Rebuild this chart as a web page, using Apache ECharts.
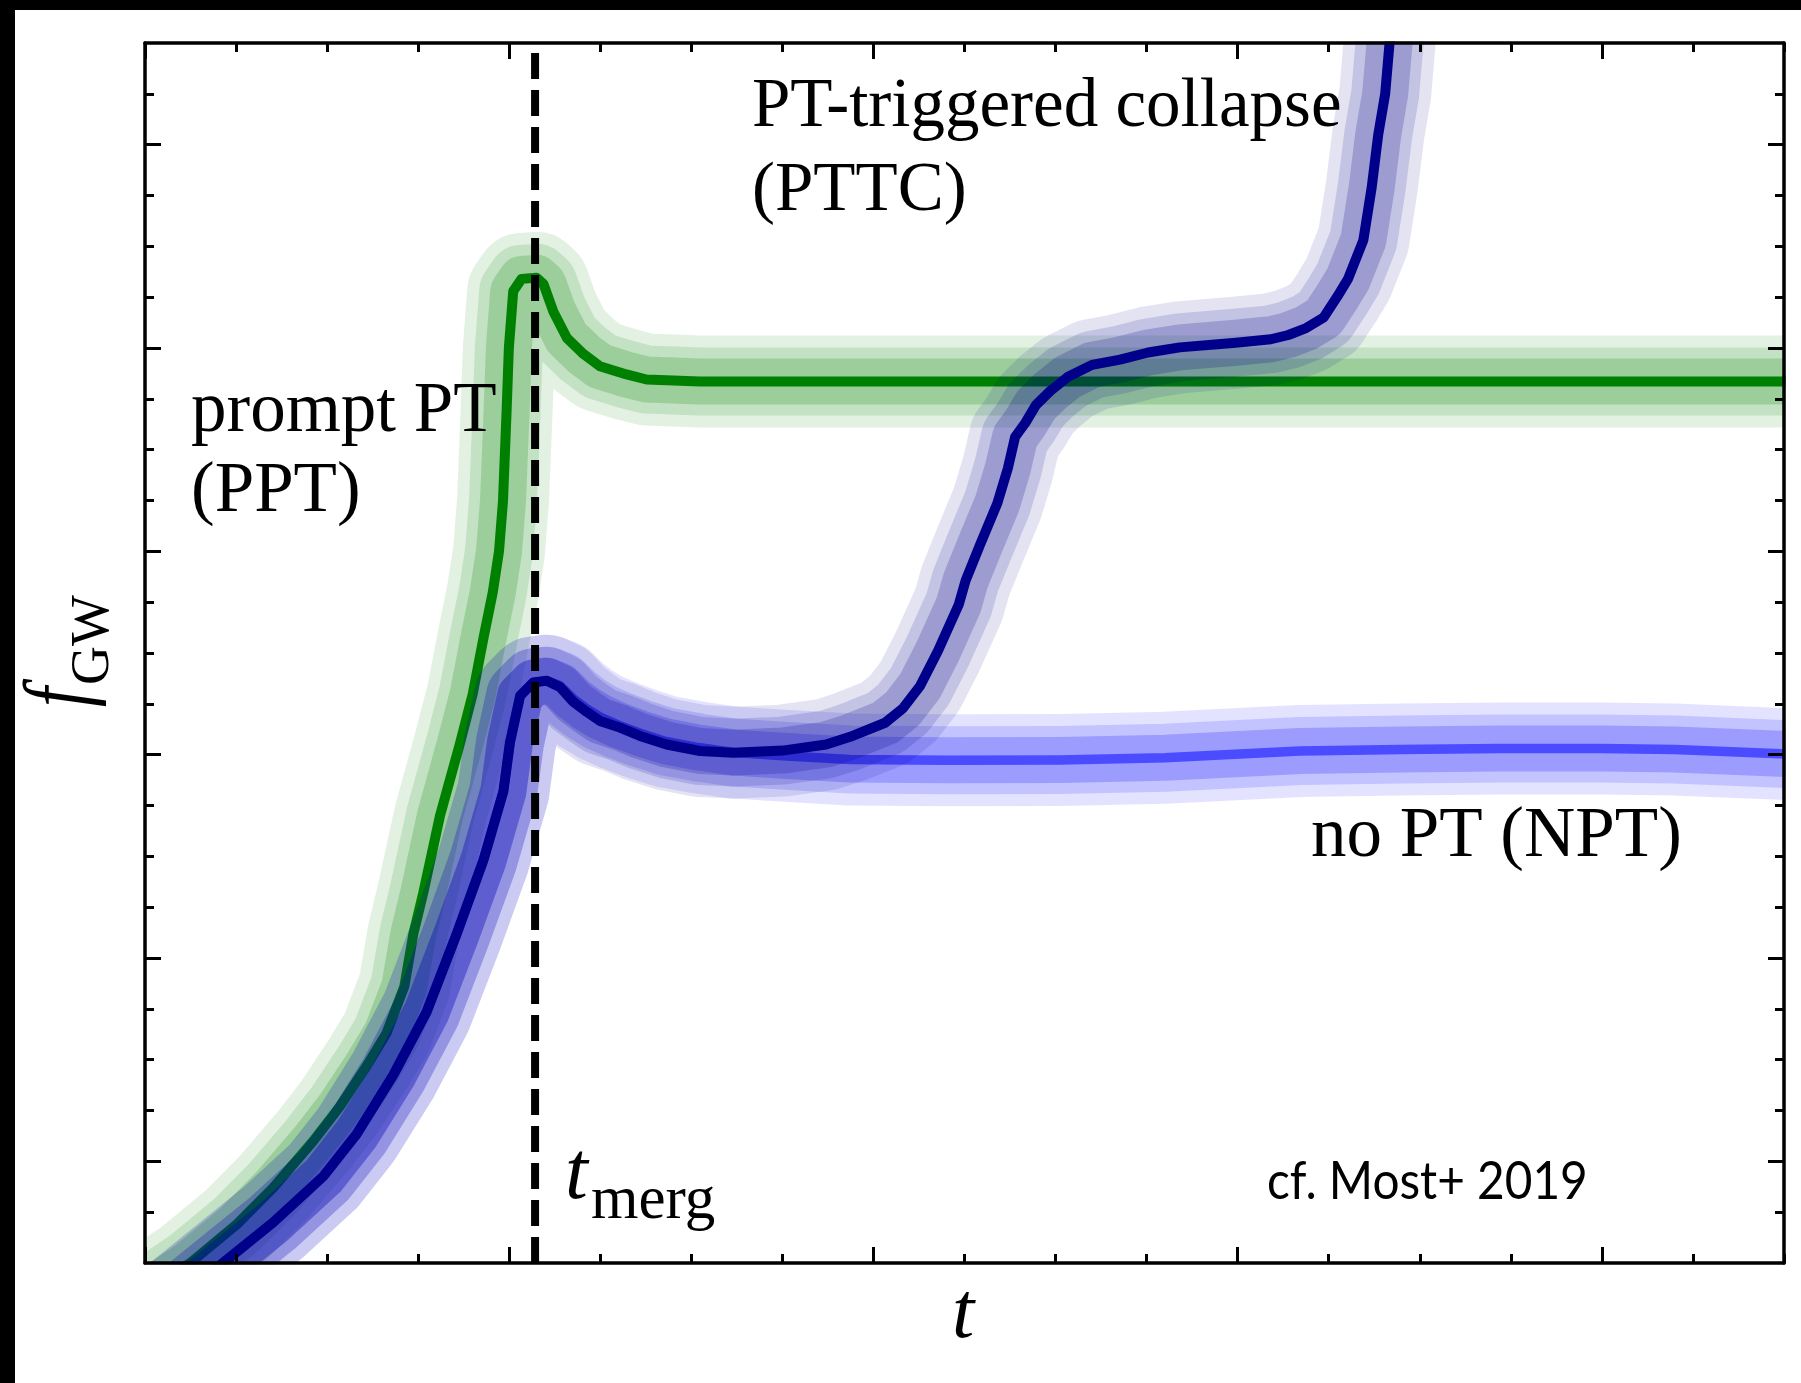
<!DOCTYPE html>
<html>
<head>
<meta charset="utf-8">
<script src="https://cdn.jsdelivr.net/npm/echarts@6/dist/echarts.min.js"></script>
<style>
  html, body { margin: 0; padding: 0; background: #fff; }
  #chart { width: 1801px; height: 1383px; }
</style>
</head>
<body>
<div id="chart"></div>
<script>
// Prompt phase transition (PPT): frequency track
const pptT = [0.00, 0.124, 0.252, 0.352, 0.462, 0.535, 0.609, 0.663, 0.712, 0.737, 0.764, 0.810, 0.864, 0.900, 0.930, 0.955, 0.972, 0.983, 0.993, 0.999, 1.011, 1.034, 1.075, 1.094, 1.121, 1.158, 1.204, 1.249, 1.322, 1.377, 1.524, 2.5, 3.5, 4.6];
const pptF = [-0.15, 0.00, 0.19, 0.37, 0.60, 0.77, 0.97, 1.13, 1.36, 1.62, 1.82, 2.20, 2.55, 2.80, 3.08, 3.30, 3.50, 3.75, 4.20, 4.50, 4.78, 4.84, 4.845, 4.815, 4.68, 4.55, 4.47, 4.41, 4.37, 4.345, 4.335, 4.335, 4.335, 4.335];

// Inspiral shared by both hadronic runs (up to the merger peak)
const inspiralT = [0.00, 0.214, 0.352, 0.49, 0.581, 0.682, 0.773, 0.856, 0.929, 0.984, 1.002, 1.03, 1.066, 1.103];
const inspiralF = [-0.31, 0.00, 0.20, 0.427, 0.634, 0.925, 1.234, 1.62, 1.98, 2.32, 2.56, 2.79, 2.855, 2.864];

// PT-triggered collapse (PTTC): post-merger part
const pttcT = [1.139, 1.176, 1.213, 1.249, 1.304, 1.359, 1.432, 1.524, 1.615, 1.75, 1.87, 1.936, 2.032, 2.080, 2.128, 2.177, 2.234, 2.253, 2.292, 2.340, 2.369, 2.389, 2.417, 2.446, 2.485, 2.533, 2.600, 2.677, 2.754, 2.841, 2.995, 3.091, 3.139, 3.188, 3.236, 3.274, 3.303, 3.345, 3.368, 3.386, 3.405, 3.417, 3.43];
const pttcF = [2.833, 2.76, 2.71, 2.666, 2.633, 2.592, 2.55, 2.518, 2.51, 2.52, 2.55, 2.588, 2.657, 2.726, 2.838, 3.010, 3.237, 3.356, 3.529, 3.736, 3.908, 4.063, 4.132, 4.219, 4.288, 4.357, 4.417, 4.443, 4.478, 4.503, 4.526, 4.543, 4.564, 4.598, 4.650, 4.754, 4.840, 5.03, 5.29, 5.55, 5.75, 6.0, 6.3];

// No phase transition (NPT): post-merger part
const nptT = [1.139, 1.176, 1.213, 1.25, 1.30, 1.36, 1.43, 1.52, 1.62, 1.75, 1.936, 2.2, 2.512, 2.8, 3.171, 3.446, 3.72, 4.0, 4.2, 4.49, 4.6];
const nptF = [2.84, 2.775, 2.725, 2.685, 2.645, 2.605, 2.565, 2.535, 2.51, 2.495, 2.476, 2.472, 2.474, 2.485, 2.518, 2.525, 2.53, 2.53, 2.525, 2.504, 2.495];

const mergerTime = 1.071;

// Axis extents and tick positions
const tRange = [0, 4.5];
const fRange = [0, 6];
const tMajorTicks = [0, 1, 2, 3, 4];
const tMinorTicks = [0.25, 0.5, 0.75, 1.25, 1.5, 1.75, 2.25, 2.5, 2.75, 3.25, 3.5, 3.75, 4.25, 4.5];
const fMajorTicks = [0.5, 1.5, 2.5, 3.5, 4.5, 5.5];
const fMinorTicks = [0.25, 0.75, 1, 1.25, 1.75, 2, 2.25, 2.75, 3, 3.25, 3.75, 4, 4.25, 4.75, 5, 5.25, 5.75];

const pairs = (t, f) => t.map((v, i) => [v, f[i]]);
const pptData = pairs(pptT, pptF);
const pttcData = pairs(inspiralT.concat(pttcT), inspiralF.concat(pttcF));
const nptData = pairs(inspiralT.concat(nptT), inspiralF.concat(nptF));

// Uncertainty halo: three translucent wide strokes around each track
const haloWidths = [92, 68, 46];
const haloOpacity = [0.11, 0.14, 0.2];

function haloSeries(data, color, z) {
  return haloWidths.map((w, i) => ({
    type: 'line', data, xAxisIndex: 0, yAxisIndex: 0,
    symbol: 'none', showSymbol: false, silent: true, animation: false, z,
    lineStyle: { color, width: w, opacity: haloOpacity[i], join: 'round', cap: 'butt' },
    emphasis: { disabled: true }
  }));
}
function trackSeries(data, color, width, z) {
  return {
    type: 'line', data, xAxisIndex: 0, yAxisIndex: 0,
    symbol: 'none', showSymbol: false, silent: true, animation: false, z,
    lineStyle: { color, width, join: 'round', cap: 'butt' },
    emphasis: { disabled: true }
  };
}

// Plot frame (pixels)
const G = { left: 145, right: 17, top: 43, bottom: 120, W: 1801, H: 1383 };

const AX = '#000';
function tAxis(position, ticks, len, line) {
  return {
    type: 'value', position, min: tRange[0], max: tRange[1], z: 40,
    axisLine: { show: line, onZero: false, lineStyle: { color: AX, width: 3.5 } },
    axisTick: { show: true, inside: true, length: len, customValues: ticks, lineStyle: { color: AX, width: 3 } },
    axisLabel: { show: false }, splitLine: { show: false }, minorTick: { show: false }
  };
}
function fAxis(position, ticks, len, line) {
  return {
    type: 'value', position, min: fRange[0], max: fRange[1], z: 40,
    axisLine: { show: line, onZero: false, lineStyle: { color: AX, width: 3.5 } },
    axisTick: { show: true, inside: true, length: len, customValues: ticks, lineStyle: { color: AX, width: 3 } },
    axisLabel: { show: false }, splitLine: { show: false }, minorTick: { show: false }
  };
}

const serif = '"Liberation Serif", "DejaVu Serif", serif';
function label(text, x, y, size, opts) {
  opts = opts || {};
  const el = {
    type: 'text', x, y, z: 50, silent: true,
    style: {
      text, fill: '#000',
      font: (opts.italic ? 'italic ' : '') + size + 'px ' + (opts.family || serif),
      align: opts.align || 'left', textAlign: opts.align || 'left',
      verticalAlign: 'middle', textVerticalAlign: 'middle'
    }
  };
  if (opts.scaleX) el.scaleX = opts.scaleX;
  return el;
}
function whiteRect(x, y, w, h) {
  return { type: 'rect', shape: { x, y, width: w, height: h }, style: { fill: '#fff' }, z: 30, silent: true };
}

const gx0 = G.left, gx1 = G.W - G.right, gy0 = G.top, gy1 = G.H - G.bottom;

const chart = echarts.init(document.getElementById('chart'), null, { renderer: 'canvas' });
chart.setOption({
  animation: false,
  backgroundColor: '#fff',
  grid: { left: G.left, right: G.right, top: G.top, bottom: G.bottom, containLabel: false },
  xAxis: [
    tAxis('bottom', tMajorTicks, 16, true),
    tAxis('bottom', tMinorTicks, 9, false),
    tAxis('top', tMajorTicks, 16, true),
    tAxis('top', tMinorTicks, 9, false)
  ],
  yAxis: [
    fAxis('left', fMajorTicks, 16, true),
    fAxis('left', fMinorTicks, 9, false),
    fAxis('right', fMajorTicks, 16, true),
    fAxis('right', fMinorTicks, 9, false)
  ],
  series: [
    ...haloSeries(pptData, '#008000', 2),
    trackSeries(pptData, '#008000', 10, 3),
    ...haloSeries(nptData, '#0000ff', 4),
    trackSeries(nptData, '#4b4bff', 9.5, 5),
    ...haloSeries(pttcData, '#00008b', 6),
    trackSeries(pttcData, '#00008b', 10, 7),
    {
      type: 'line', data: [[mergerTime, fRange[0]], [mergerTime, fRange[1]]],
      xAxisIndex: 0, yAxisIndex: 0, symbol: 'none', silent: true, animation: false, z: 10,
      lineStyle: { color: '#000', width: 8, type: [26, 11] }
    }
  ],
  graphic: [
    // keep the wide halo strokes inside the frame
    whiteRect(0, 0, gx0 - 1.5, G.H),
    whiteRect(0, 0, G.W, gy0 - 1.5),
    whiteRect(gx1 + 1.5, 0, G.W - gx1, G.H),
    whiteRect(0, gy1 + 1.5, G.W, G.H - gy1),
    // page border
    { type: 'rect', shape: { x: 0, y: 0, width: G.W, height: 10 }, style: { fill: '#000' }, z: 100, silent: true },
    { type: 'rect', shape: { x: 0, y: 0, width: 15, height: G.H }, style: { fill: '#000' }, z: 100, silent: true },
    label('PT-triggered collapse', 752, 108, 69),
    label('(PTTC)', 752, 192, 69),
    label('prompt PT', 191, 412, 71),
    label('(PPT)', 191, 492, 71),
    label('no PT (NPT)', 1311, 837, 71),
    label('cf. Most+ 2019', 1267, 1182, 53, { family: 'Lato, "Open Sans", sans-serif', scaleX: 0.9 }),
    label('t', 963, 1316, 80, { italic: true, align: 'center' }),
    label('t', 565, 1176, 82, { italic: true }),
    label('merg', 591, 1202, 61),
    {
      type: 'group', x: 93, y: 707, rotation: Math.PI / 2,
      children: [
        label('f', 0, -30, 92, { italic: true, scaleX: 0.78 }),
        label('GW', 22, 1, 54)
      ]
    }
  ]
});
</script>
</body>
</html>
